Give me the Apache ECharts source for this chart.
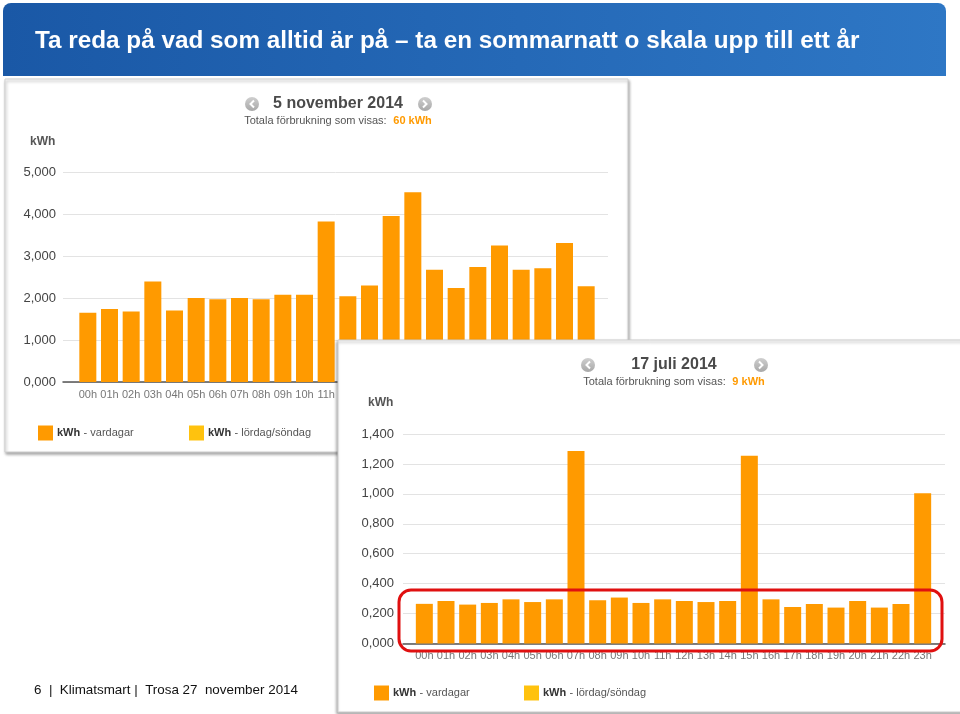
<!DOCTYPE html>
<html><head><meta charset="utf-8">
<script src="https://cdn.jsdelivr.net/npm/echarts@6/dist/echarts.min.js"></script>
<style>html,body{margin:0;padding:0;background:#fff}#c{width:960px;height:714px}</style>
</head><body><div id="c"></div>
<script>
const hours = ['00h','01h','02h','03h','04h','05h','06h','07h','08h','09h','10h','11h','12h','13h','14h','15h','16h','17h','18h','19h','20h','21h','22h','23h'];
// 5 november 2014 (kWh per hour)
const novValues = [1.65,1.74,1.68,2.39,1.70,2.00,1.97,2.00,1.97,2.08,2.08,3.82,2.04,2.30,3.95,4.52,2.67,2.24,2.74,3.25,2.67,2.71,3.31,2.28];
// 17 juli 2014 (kWh per hour)
const julValues = [0.265,0.284,0.260,0.271,0.295,0.277,0.295,1.287,0.289,0.307,0.271,0.295,0.284,0.277,0.284,1.255,0.295,0.244,0.264,0.240,0.284,0.240,0.264,1.004];
const novAxis = {min: 0, max: 5, interval: 1};
const julAxis = {min: 0, max: 1.4, interval: 0.2};
const slideTitle = 'Ta reda på vad som alltid är på – ta en sommarnatt o skala upp till ett år';
const footerText = '6  |  Klimatsmart |  Trosa 27  november 2014';
const novTitle = '5 november 2014', novTotal = '60 kWh';
const julTitle = '17 juli 2014', julTotal = '9 kWh';
const legendNames = ['vardagar', 'lördag/söndag'];

const ORANGE = '#FF9A00', YELLOW = '#FFC20E';
const fmt = v => v.toFixed(3).replace('.', ',');
const FONT = 'Arial, "Liberation Sans", sans-serif';

function navIcon(cx, cy, dir, z) {
  const d = dir < 0 ? [[cx+2,cy-3.5],[cx-1.5,cy],[cx+2,cy+3.5]] : [[cx-2,cy-3.5],[cx+1.5,cy],[cx-2,cy+3.5]];
  return [
    {type:'circle', shape:{cx:cx, cy:cy, r:7}, style:{fill:{type:'linear',x:0,y:0,x2:0,y2:1,colorStops:[{offset:0,color:'#cfcfcf'},{offset:1,color:'#a8a8a8'}]}}, z:z},
    {type:'polyline', shape:{points:d}, style:{stroke:'#fff', lineWidth:2, fill:null}, z:z+0.1}
  ];
}
function header(cx, cy, title, total, iconL, iconR, z) {
  return [
    ...navIcon(iconL, cy, -1, z), ...navIcon(iconR, cy, 1, z),
    {type:'text', x:cx, y:cy, style:{text:title, font:'bold 16px '+FONT, fill:'#4a4a4a', textAlign:'center', textVerticalAlign:'middle'}, z:z},
    {type:'text', x:cx, y:cy+17, style:{text:'{a|Totala förbrukning som visas:}  {b|'+total+'}', textAlign:'center', textVerticalAlign:'middle',
      rich:{a:{font:'11px '+FONT, fill:'#555'}, b:{font:'bold 11px '+FONT, fill:ORANGE}}}, z:z}
  ];
}
function legend(x1, x2, cy, z) {
  return [
    {type:'rect', shape:{x:x1, y:cy-7.5, width:15, height:15}, style:{fill:ORANGE}, z:z},
    {type:'text', x:x1+19, y:cy, style:{text:'{a|kWh} {b|- '+legendNames[0]+'}', textVerticalAlign:'middle',
      rich:{a:{font:'bold 11px '+FONT, fill:'#333'}, b:{font:'11px '+FONT, fill:'#555'}}}, z:z},
    {type:'rect', shape:{x:x2, y:cy-7.5, width:15, height:15}, style:{fill:YELLOW}, z:z},
    {type:'text', x:x2+19, y:cy, style:{text:'{a|kWh} {b|- '+legendNames[1]+'}', textVerticalAlign:'middle',
      rich:{a:{font:'bold 11px '+FONT, fill:'#333'}, b:{font:'11px '+FONT, fill:'#555'}}}, z:z}
  ];
}

const graphics = [
  // banner
  {type:'rect', shape:{x:3, y:3, width:943, height:73, r:[8,8,0,0]},
    style:{fill:{type:'linear',x:0,y:0,x2:1,y2:0,colorStops:[{offset:0,color:'#1A58A6'},{offset:1,color:'#2E77C5'}]}}, z:1},
  {type:'text', x:35, y:41, style:{text:slideTitle, font:'bold 24.3px '+FONT, fill:'#fff', textVerticalAlign:'middle'}, z:1.1},
  // card 1
  {type:'rect', shape:{x:5, y:79, width:623, height:373},
    style:{fill:'#fff', stroke:'#cfcfcf', lineWidth:1, shadowBlur:3, shadowOffsetX:1, shadowOffsetY:2, shadowColor:'rgba(0,0,0,0.35)'}, z:1},
  ...header(338, 104, novTitle, novTotal, 252, 425, 1.2),
  {type:'text', x:30, y:142, style:{text:'kWh', font:'bold 12px '+FONT, fill:'#555', textVerticalAlign:'middle'}, z:1.2},
  ...legend(38, 189, 433, 1.2),
  // card 2
  {type:'rect', shape:{x:338, y:340, width:640, height:372},
    style:{fill:'#fff', stroke:'#cfcfcf', lineWidth:1, shadowBlur:3, shadowOffsetX:-1, shadowOffsetY:2, shadowColor:'rgba(0,0,0,0.35)'}, z:5},
  ...header(674, 365, julTitle, julTotal, 588, 761, 5.2),
  {type:'text', x:368, y:403, style:{text:'kWh', font:'bold 12px '+FONT, fill:'#555', textVerticalAlign:'middle'}, z:5.2},
  ...legend(374, 524, 693, 5.2),
  // highlight
  {type:'rect', shape:{x:399, y:590, width:543, height:61, r:12}, style:{fill:null, stroke:'#E01010', lineWidth:3}, z:9},
  // footer
  {type:'text', x:34, y:690, style:{text:footerText, font:'13.4px '+FONT, fill:'#111', textVerticalAlign:'middle'}, z:1.1}
];

function gridAxis(ax, gi, z, margin) {
  return {type:'value', gridIndex:gi, min:ax.min, max:ax.max, interval:ax.interval, z:z,
    axisLine:{show:false}, axisTick:{show:false},
    axisLabel:{formatter:fmt, fontSize:13, color:'#444', margin:margin, fontFamily:FONT},
    splitLine:{lineStyle:{color:'#e3e3e3', width:1}}};
}
function hiddenY(ax, gi) {
  return {type:'value', gridIndex:gi, min:ax.min, max:ax.max, interval:ax.interval, show:false};
}
function baseX(gi, z) {
  return {type:'value', gridIndex:gi, min:0, max:1, z:z, axisLine:{show:true, lineStyle:{color:'#555', width:1.5}},
    axisTick:{show:false}, axisLabel:{show:false}, splitLine:{show:false}};
}
function catX(gi, z) {
  return {type:'category', gridIndex:gi, data:hours, z:z, axisLine:{show:false}, axisTick:{show:false},
    axisLabel:{interval:0, fontSize:11, color:'#777', margin:7, fontFamily:FONT}};
}

const option = {
  animation:false,
  graphic:{elements:graphics},
  grid:[
    {left:63, top:172, width:545, height:210},
    {left:77, top:172, width:520, height:210},
    {left:403, top:434, width:542, height:209.5},
    {left:413.5, top:434, width:520, height:209.5}
  ],
  xAxis:[baseX(0,2), catX(1,2), baseX(2,6), catX(3,6)],
  yAxis:[gridAxis(novAxis,0,2,7), hiddenY(novAxis,1), gridAxis(julAxis,2,6,9), hiddenY(julAxis,3)],
  series:[
    {type:'bar', xAxisIndex:1, yAxisIndex:1, data:novValues, barWidth:17, itemStyle:{color:ORANGE}, z:3},
    {type:'bar', xAxisIndex:3, yAxisIndex:3, data:julValues, barWidth:17, itemStyle:{color:ORANGE}, z:7}
  ]
};
echarts.init(document.getElementById('c')).setOption(option);
</script></body></html>
